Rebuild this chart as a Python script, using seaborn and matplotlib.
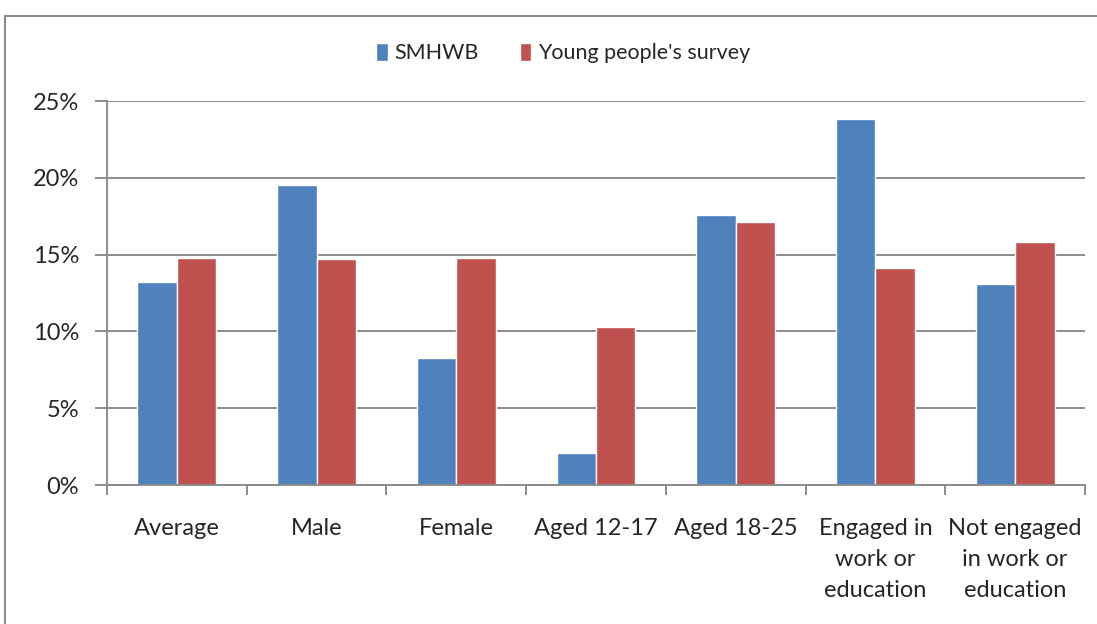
import numpy as np
import pandas as pd
import matplotlib
matplotlib.use("Agg")
import matplotlib.pyplot as plt
import seaborn as sns
from matplotlib.patches import Rectangle
from matplotlib.ticker import PercentFormatter, FixedLocator

categories = ["Average", "Male", "Female", "Aged 12-17", "Aged 18-25",
              "Engaged in\nwork or\neducation", "Not engaged\nin work or\neducation"]
smhwb = [13.2, 19.5, 8.3, 2.1, 17.6, 23.8, 13.1]
young_survey = [14.8, 14.7, 14.8, 10.3, 17.1, 14.1, 15.8]
series_names = ["SMHWB", "Young people's survey"]

df = pd.DataFrame({
    "category": categories * 2,
    "series": [series_names[0]] * len(categories) + [series_names[1]] * len(categories),
    "value": smhwb + young_survey,
})

sns.set_style("white")
plt.rcParams["font.family"] = ["Lato", "DejaVu Sans"]

fig = plt.figure(figsize=(10.97, 6.24), dpi=100)
# outer chart border (runs off the right and bottom edges)
fig.patches.append(Rectangle((5 / 1097, -0.05), 1.2, 1 - 16 / 624 + 0.05,
                             transform=fig.transFigure, fill=False,
                             edgecolor="#8c8c8c", linewidth=1.5))

ax = fig.add_axes([107 / 1097, 1 - 485 / 624, (1085 - 107) / 1097, (485 - 101) / 624])

sns.barplot(data=df, x="category", y="value", hue="series", order=categories,
            hue_order=series_names, palette=["#4F81BD", "#C0504D"],
            width=0.565, saturation=1, ax=ax, legend=True)

ax.set_ylim(0, 25)
ax.set_xlim(-0.5, len(categories) - 0.5)
ax.set_yticks(np.arange(0, 26, 5))
ax.yaxis.set_major_formatter(PercentFormatter(decimals=0))
ax.grid(axis="y", color="#8c8c8c", linewidth=1.4)
ax.set_axisbelow(True)
ax.set_xlabel("")
ax.set_ylabel("")

for side in ["top", "right"]:
    ax.spines[side].set_visible(False)
for side in ["left", "bottom"]:
    ax.spines[side].set_color("#8c8c8c")
    ax.spines[side].set_linewidth(1.4)

ax.tick_params(axis="y", which="major", length=9, width=1.4, color="#8c8c8c",
               labelsize=17, pad=11, direction="out", left=True)
ax.tick_params(axis="x", which="major", length=0, labelsize=17, pad=24)
ax.xaxis.set_minor_locator(FixedLocator(np.arange(-0.5, len(categories), 1)))
ax.tick_params(axis="x", which="minor", length=7, width=1.4, color="#8c8c8c",
               direction="out", bottom=True)
for lab in ax.get_xticklabels():
    lab.set_linespacing(1.58)
    lab.set_verticalalignment("top")

leg = ax.legend(loc="center", bbox_to_anchor=((563 - 107) / 978, 1 + 48 / 384), ncol=2,
                frameon=False, fontsize=15.5, handlelength=0.55, handleheight=0.9,
                handletextpad=0.3, columnspacing=1.9)

fig.savefig("out.png", dpi=100)
